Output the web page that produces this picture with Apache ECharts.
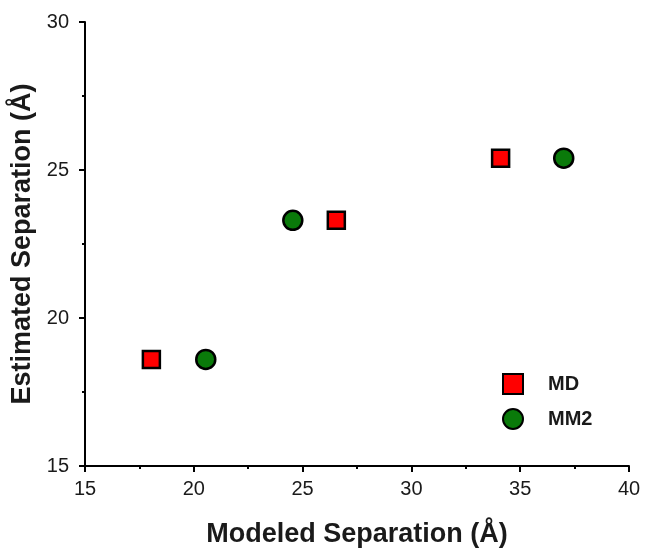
<!DOCTYPE html>
<html>
<head>
<meta charset="utf-8">
<script src="https://cdn.jsdelivr.net/npm/echarts@6/dist/echarts.min.js"></script>
<style>
  html, body { margin: 0; padding: 0; background: #fff; }
  #chart { width: 648px; height: 548px; }
</style>
</head>
<body>
<div id="chart"></div>
<script>
// values
const mdPoints = [[18.05, 18.6], [26.55, 23.3], [34.1, 25.4]]
const mm2Points = [[20.55, 18.6], [24.55, 23.3], [37.0, 25.4]]
const seriesNames = ['MD', 'MM2']

const chart = echarts.init(document.getElementById('chart'))
const font = 'Liberation Sans, Arial, sans-serif'

const axisCommon = {
  type: 'value',
  nameLocation: 'middle',
  nameTextStyle: { fontFamily: font, fontSize: 27, fontWeight: 'bold', color: '#1a1a1a' },
  axisLine: { show: true, lineStyle: { color: '#000', width: 2 } },
  axisTick: { show: true, inside: false, length: 6, lineStyle: { color: '#000', width: 2 } },
  minorTick: { show: true, splitNumber: 2, length: 3, lineStyle: { color: '#000', width: 2 } },
  axisLabel: { fontFamily: font, fontSize: 20, color: '#1a1a1a' },
  splitLine: { show: false }
}

const option = {
  backgroundColor: '#fff',
  animation: false,
  grid: { left: 85, right: 19, top: 22, bottom: 82, outerBoundsMode: 'none' },
  xAxis: Object.assign({}, axisCommon, {
    name: 'Modeled Separation (Å)',
    nameGap: 55,
    min: 15, max: 40, interval: 5,
    axisLabel: Object.assign({}, axisCommon.axisLabel, { margin: 13 })
  }),
  yAxis: Object.assign({}, axisCommon, {
    name: 'Estimated Separation (Å)',
    nameGap: 40,
    min: 15, max: 30, interval: 5,
    axisLabel: Object.assign({}, axisCommon.axisLabel, { margin: 16 })
  }),
  legend: {
    orient: 'vertical',
    left: 497,
    top: 368,
    itemWidth: 20,
    itemHeight: 20,
    itemGap: 13,
    data: seriesNames,
    textStyle: { fontFamily: font, fontSize: 20, fontWeight: 'bold', color: '#1a1a1a', padding: [0, 0, 0, 20] }
  },
  series: [
    {
      name: seriesNames[0],
      type: 'scatter',
      symbol: 'rect',
      symbolSize: 17,
      data: mdPoints,
      itemStyle: { color: '#ff0000', borderColor: '#000', borderWidth: 2.5, opacity: 1 }
    },
    {
      name: seriesNames[1],
      type: 'scatter',
      symbol: 'circle',
      symbolSize: 19,
      data: mm2Points,
      itemStyle: { color: '#0a7a0a', borderColor: '#000', borderWidth: 2.5, opacity: 1 }
    }
  ]
}

chart.setOption(option)
</script>
</body>
</html>
